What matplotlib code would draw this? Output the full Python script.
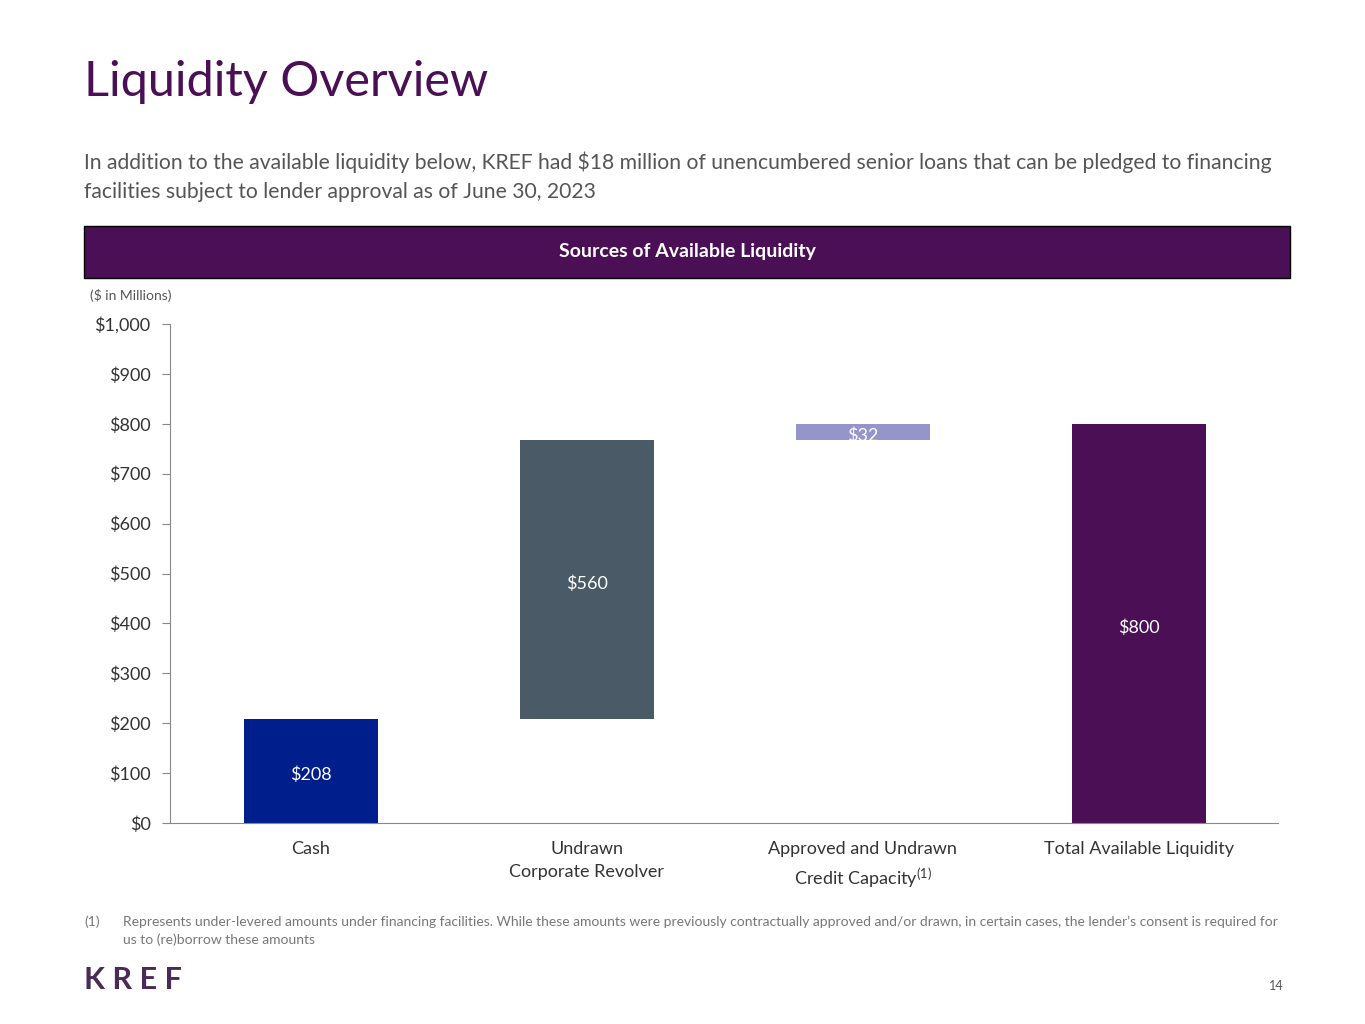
import matplotlib
matplotlib.use('Agg')
import matplotlib.pyplot as plt
from matplotlib.patches import Rectangle

plt.rcParams['font.family'] = ['Lato', 'DejaVu Sans']
plt.rcParams['mathtext.fontset'] = 'custom'
plt.rcParams['mathtext.rm'] = 'Lato'
plt.rcParams['mathtext.default'] = 'rm'

categories = ['Cash', 'Undrawn\nCorporate Revolver', 'Approved and Undrawn\nCredit Capacity$^{(1)}$', 'Total Available Liquidity']
values = [208, 560, 32, 800]
bottoms = [0, 208, 768, 0]
labels = ['$208', '$560', '$32', '$800']
colors = ['#001E8C', '#4A5A66', '#9595CC', '#4B0F55']
yticks = [0, 100, 200, 300, 400, 500, 600, 700, 800, 900, 1000]

purple = '#4B0F55'
grey = '#555555'

fig = plt.figure(figsize=(13.65, 10.24), dpi=100)

fig.text(84/1365, 1 - 82/1024, 'Liquidity Overview', fontsize=35, color=purple, va='center')
fig.text(84/1365, 1 - 162/1024,
         'In addition to the available liquidity below, KREF had $18 million of unencumbered senior loans that can be pledged to financing',
         fontsize=15.2, color=grey, va='center')
fig.text(84/1365, 1 - 192/1024, 'facilities subject to lender approval as of June 30, 2023',
         fontsize=15.2, color=grey, va='center')

fig.add_artist(Rectangle((84/1365, 1 - 278/1024), 1206/1365, 52/1024, transform=fig.transFigure,
                         facecolor=purple, edgecolor='black', linewidth=1))
fig.text(687/1365, 1 - 252/1024, 'Sources of Available Liquidity', fontsize=14, color='white',
         fontweight='bold', ha='center', va='center')
fig.text(90/1365, 1 - 296/1024, '($ in Millions)', fontsize=10, color=grey, va='center')

ax = fig.add_axes([170/1365, 1 - 823/1024, 1108/1365, 499/1024])
x = range(len(categories))
ax.bar(x, values, bottom=bottoms, width=0.485, color=colors)
for i in x:
    ax.text(i, bottoms[i] + values[i] / 2 - 8, labels[i].replace('$', r'\$'), ha='center', va='center',
            color='white', fontsize=13)

ax.set_xlim(-0.51, 3.505)
ax.set_ylim(0, 1000)
ax.set_yticks(yticks)
ax.set_yticklabels(['\\${:,}'.format(v) for v in yticks], fontsize=13, color='#333333')
ax.set_xticks(list(x))
ax.set_xticklabels(categories, fontsize=13, color='#333333', linespacing=1.5, va='top')
ax.tick_params(axis='x', length=0, pad=13)
ax.tick_params(axis='y', length=6, color='#888888', pad=8)
for s in ['top', 'right']:
    ax.spines[s].set_visible(False)
for s in ['left', 'bottom']:
    ax.spines[s].set_color('#888888')

fig.text(84/1365, 1 - 922/1024, '(1)', fontsize=10, color='#777777', va='center')
fig.text(123/1365, 1 - 922/1024,
         'Represents under-levered amounts under financing facilities. While these amounts were previously contractually approved and/or drawn, in certain cases, the lender\u2019s consent is required for',
         fontsize=10, color='#777777', va='center')
fig.text(123/1365, 1 - 940/1024, 'us to (re)borrow these amounts', fontsize=10, color='#777777', va='center')

fig.text(84/1365, 1 - 980/1024, 'K R E F', fontsize=22, color='#4A2A58', fontweight='bold', va='center')
fig.text(1284/1365, 1 - 986/1024, '14', fontsize=9, color='#555555', va='center', ha='right')

fig.savefig('out.png', dpi=100)
